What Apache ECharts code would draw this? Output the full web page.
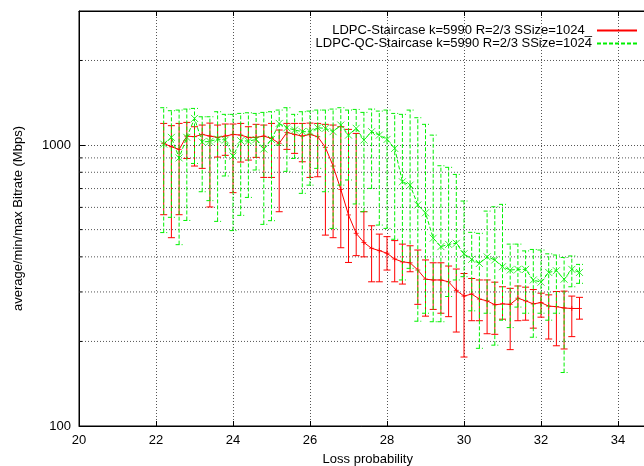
<!DOCTYPE html>
<html><head><meta charset="utf-8">
<script src="https://cdn.jsdelivr.net/npm/echarts@6/dist/echarts.min.js"></script>
<style>html,body{margin:0;padding:0;background:#fff}#c{width:644px;height:466px}</style>
</head><body><div id="c"></div>
<script>
const lossX = [22.2,22.4,22.6,22.8,23.0,23.2,23.4,23.6,23.8,24.0,24.2,24.4,24.6,24.8,25.0,25.2,25.4,25.6,25.8,26.0,26.2,26.4,26.6,26.8,27.0,27.2,27.4,27.6,27.8,28.0,28.2,28.4,28.6,28.8,29.0,29.2,29.4,29.6,29.8,30.0,30.2,30.4,30.6,30.8,31.0,31.2,31.4,31.6,31.8,32.0,32.2,32.4,32.6,32.8,33.0];

const redAvg = [1014,986,965,1076,1071,1091,1076,1065,1076,1091,1085,1065,1065,1076,1056,1014,1109,1091,1076,1091,1071,981,842,695,564,485,450,429,421,412,393,384,381,359,333,331,331,326,304,290,295,283,279,270,272,271,285,279,272,275,267,266,263,262,262];
const redMax = [1194,1172,1194,1204,1162,1178,1197,1178,1188,1188,1194,1162,1185,1178,1194,1131,1194,1194,1194,1197,1194,1185,1178,1162,1137,1100,579,516,482,472,457,444,438,423,390,381,381,371,362,349,335,331,331,325,313,309,315,312,306,297,293,301,302,290,287];
const redMin = [565,468,565,896,842,826,602,906,919,677,870,884,904,767,767,579,965,934,872,767,771,478,468,431,382,404,400,326,326,359,326,320,354,271,246,260,252,245,216,176,237,237,213,212,240,187,237,238,223,244,204,193,188,208,240];

const greenAvg = [1008,1065,900,1065,1244,1025,1030,1050,1042,914,1036,1033,1047,968,1047,1194,1152,1131,1116,1116,1152,1147,1116,1178,1085,1147,1042,1116,1085,1047,973,740,720,612,574,466,435,443,447,410,392,379,400,390,369,359,361,361,331,325,352,357,333,361,352];
const greenMax = [1358,1325,1332,1343,1350,1261,1261,1314,1286,1286,1296,1303,1296,1307,1314,1332,1358,1286,1314,1321,1332,1332,1343,1358,1332,1339,1307,1343,1321,1332,1296,1286,1332,1251,1185,1085,844,833,786,632,489,485,582,603,615,444,444,420,425,423,410,406,398,403,376];
const greenMin = [488,553,442,539,860,682,634,535,776,496,562,651,815,522,538,1000,806,896,673,720,826,682,505,720,751,617,579,701,519,505,462,331,364,236,252,235,235,289,331,340,257,189,252,194,238,224,265,252,207,252,238,252,155,313,322];

const xTicks = [20,22,24,26,28,30,32,34];
const yMajor = [100,1000];
const yMinor = [200,300,400,500,600,700,800,900,2000];

const redName = 'LDPC-Staircase k=5990 R=2/3 SSize=1024_';
const greenName = 'LDPC-QC-Staircase k=5990 R=2/3 SSize=1024';
const RED = '#ff0000', GREEN = '#00f000';
const FONT = '"Liberation Sans", Arial, sans-serif';
const FS = 13;

function errRender(color, dash) {
  return function (params, api) {
    const x = api.value(0), lo = api.value(1), hi = api.value(2);
    const a = api.coord([x, lo]), b = api.coord([x, hi]);
    const hw = 3.5;
    const st = {stroke: color, lineWidth: 1, fill: null, lineDash: dash};
    return {type: 'group', children: [
      {type: 'line', shape: {x1: a[0], y1: a[1], x2: b[0], y2: b[1]}, style: st},
      {type: 'line', shape: {x1: a[0]-hw, y1: a[1], x2: a[0]+hw, y2: a[1]}, style: st},
      {type: 'line', shape: {x1: b[0]-hw, y1: b[1], x2: b[0]+hw, y2: b[1]}, style: st}
    ]};
  };
}

function gridRender(params, api) {
  const v = api.value(0);
  const cs = params.coordSys;
  const p = api.coord([20, v]);
  return {type: 'group', children: [
    {type: 'line', shape: {x1: cs.x, y1: p[1], x2: cs.x + cs.width, y2: p[1]},
     style: {stroke: '#555', lineWidth: 1, lineDash: [1, 2]}},
    {type: 'line', shape: {x1: cs.x, y1: p[1], x2: cs.x + 3, y2: p[1]},
     style: {stroke: '#000', lineWidth: 1}}
  ]};
}

const solidIcon = 'path://M0,0h40v2h-40z';
let dashPath = 'path://';
for (const s of [0, 6, 12, 18, 24, 30, 36]) dashPath += 'M' + s + ',0h4v2h-4z';
dashPath += 'M39.9,0h0.1v2h-0.1z';

const chart = echarts.init(document.getElementById('c'), null, {renderer: 'canvas'});
chart.setOption({
  animation: false,
  backgroundColor: '#fff',
  textStyle: {fontFamily: FONT},
  grid: {left: 79, top: 11, width: 577.5, height: 415, show: true, borderColor: '#000', borderWidth: 1,
         containLabel: false, outerBoundsMode: 'none'},
  legend: {
    data: [{name: redName, icon: solidIcon}, {name: greenName, icon: dashPath}],
    orient: 'vertical', align: 'right', right: 2, top: 19,
    itemWidth: 40, itemHeight: 2, itemGap: 0, symbolKeepAspect: false,
    itemStyle: {borderWidth: 0},
    textStyle: {fontFamily: FONT, fontSize: FS, color: '#000', lineHeight: 12},
    selectedMode: false
  },
  xAxis: [{
    type: 'value', min: 20, max: 35, interval: 2,
    name: 'Loss probability', nameLocation: 'middle', nameGap: 27,
    nameTextStyle: {fontFamily: FONT, fontSize: FS, color: '#000'},
    axisLine: {show: true, lineStyle: {color: '#000'}},
    axisTick: {show: true, inside: true, length: 5, lineStyle: {color: '#000'}},
    axisLabel: {fontFamily: FONT, fontSize: FS, color: '#000', margin: 8,
      formatter: v => xTicks.includes(v) ? String(v) : ''},
    splitLine: {show: true, lineStyle: {color: '#555', type: [1, 2]}}
  }, {
    type: 'value', min: 20, max: 35, interval: 2, position: 'top',
    axisLine: {show: true, lineStyle: {color: '#000'}},
    axisTick: {show: true, inside: true, length: 5, lineStyle: {color: '#000'}},
    axisLabel: {show: false}, splitLine: {show: false}
  }],
  yAxis: {
    type: 'log', logBase: 10, min: 100, max: 3000,
    name: 'average/min/max Bitrate (Mbps)', nameLocation: 'middle', nameGap: 54,
    nameTextStyle: {fontFamily: FONT, fontSize: FS, color: '#000'},
    axisLine: {show: true, lineStyle: {color: '#000'}},
    axisTick: {show: true, inside: true, length: 6, lineStyle: {color: '#000'}},
    axisLabel: {fontFamily: FONT, fontSize: FS, color: '#000', margin: 8,
      formatter: v => yMajor.includes(Math.round(v)) ? String(Math.round(v)) : ''},
    splitLine: {show: true, lineStyle: {color: '#555', type: [1, 2]}}
  },
  series: [
    {type: 'custom', renderItem: gridRender, data: yMinor.map(v => [v]), silent: true, z: 1},
    {type: 'custom', renderItem: errRender(RED, null), silent: true, z: 2,
     data: lossX.map((x, i) => [x, redMin[i], redMax[i]])},
    {name: redName, type: 'line', symbol: 'none', z: 3,
     lineStyle: {color: RED, width: 1}, itemStyle: {color: RED},
     data: lossX.map((x, i) => [x, redAvg[i]])},
    {type: 'scatter', z: 3, silent: true, symbol: 'path://M5,0L5,10M0,5L10,5', symbolSize: 5,
     itemStyle: {color: 'transparent', borderColor: RED, borderWidth: 1},
     data: lossX.map((x, i) => [x, redAvg[i]])},
    {type: 'custom', renderItem: errRender(GREEN, [4, 2]), silent: true, z: 4,
     data: lossX.map((x, i) => [x, greenMin[i], greenMax[i]])},
    {name: greenName, type: 'line', symbol: 'none', z: 5,
     lineStyle: {color: GREEN, width: 1, type: [4, 2]}, itemStyle: {color: GREEN},
     data: lossX.map((x, i) => [x, greenAvg[i]])},
    {type: 'scatter', z: 5, silent: true, symbol: 'path://M0,0L10,10M10,0L0,10', symbolSize: 7,
     itemStyle: {color: 'transparent', borderColor: GREEN, borderWidth: 1},
     data: lossX.map((x, i) => [x, greenAvg[i]])}
  ]
});
</script></body></html>
